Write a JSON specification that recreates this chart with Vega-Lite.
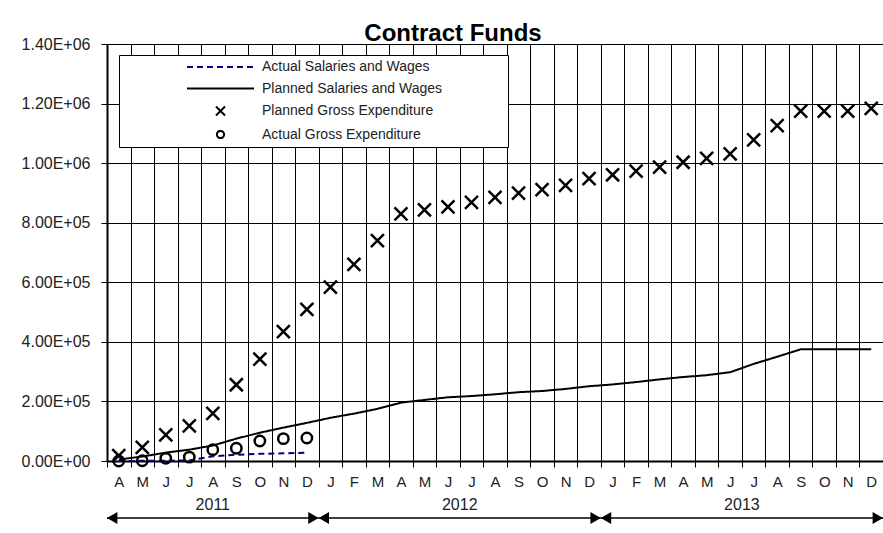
{
  "$schema": "https://vega.github.io/schema/vega-lite/v6.json",
  "width": 776,
  "height": 417,
  "autosize": {"type": "none"},
  "padding": {"left": 107, "top": 44, "right": 0, "bottom": 72},
  "background": "white",
  "config": {"font": "Liberation Sans", "view": {"stroke": "black", "strokeWidth": 1}},
  "title": {"text": "Contract Funds", "fontSize": 24, "fontWeight": "bold", "color": "black", "anchor": "middle", "dx": -42, "dy": 33, "offset": 4, "baseline": "alphabetic"},
  "data": {"values": [
    {"i":1,"date":"2011-04","year":"2011","series":"Planned Gross Expenditure","value":18000},
    {"i":2,"date":"2011-05","year":"2011","series":"Planned Gross Expenditure","value":46000},
    {"i":3,"date":"2011-06","year":"2011","series":"Planned Gross Expenditure","value":88000},
    {"i":4,"date":"2011-07","year":"2011","series":"Planned Gross Expenditure","value":118000},
    {"i":5,"date":"2011-08","year":"2011","series":"Planned Gross Expenditure","value":160000},
    {"i":6,"date":"2011-09","year":"2011","series":"Planned Gross Expenditure","value":256000},
    {"i":7,"date":"2011-10","year":"2011","series":"Planned Gross Expenditure","value":342000},
    {"i":8,"date":"2011-11","year":"2011","series":"Planned Gross Expenditure","value":434000},
    {"i":9,"date":"2011-12","year":"2011","series":"Planned Gross Expenditure","value":509000},
    {"i":10,"date":"2012-01","year":"2012","series":"Planned Gross Expenditure","value":584000},
    {"i":11,"date":"2012-02","year":"2012","series":"Planned Gross Expenditure","value":660000},
    {"i":12,"date":"2012-03","year":"2012","series":"Planned Gross Expenditure","value":740000},
    {"i":13,"date":"2012-04","year":"2012","series":"Planned Gross Expenditure","value":830000},
    {"i":14,"date":"2012-05","year":"2012","series":"Planned Gross Expenditure","value":843000},
    {"i":15,"date":"2012-06","year":"2012","series":"Planned Gross Expenditure","value":853000},
    {"i":16,"date":"2012-07","year":"2012","series":"Planned Gross Expenditure","value":868000},
    {"i":17,"date":"2012-08","year":"2012","series":"Planned Gross Expenditure","value":885000},
    {"i":18,"date":"2012-09","year":"2012","series":"Planned Gross Expenditure","value":899000},
    {"i":19,"date":"2012-10","year":"2012","series":"Planned Gross Expenditure","value":911000},
    {"i":20,"date":"2012-11","year":"2012","series":"Planned Gross Expenditure","value":925000},
    {"i":21,"date":"2012-12","year":"2012","series":"Planned Gross Expenditure","value":948000},
    {"i":22,"date":"2013-01","year":"2013","series":"Planned Gross Expenditure","value":961000},
    {"i":23,"date":"2013-02","year":"2013","series":"Planned Gross Expenditure","value":973000},
    {"i":24,"date":"2013-03","year":"2013","series":"Planned Gross Expenditure","value":987000},
    {"i":25,"date":"2013-04","year":"2013","series":"Planned Gross Expenditure","value":1003000},
    {"i":26,"date":"2013-05","year":"2013","series":"Planned Gross Expenditure","value":1016000},
    {"i":27,"date":"2013-06","year":"2013","series":"Planned Gross Expenditure","value":1031000},
    {"i":28,"date":"2013-07","year":"2013","series":"Planned Gross Expenditure","value":1078000},
    {"i":29,"date":"2013-08","year":"2013","series":"Planned Gross Expenditure","value":1126000},
    {"i":30,"date":"2013-09","year":"2013","series":"Planned Gross Expenditure","value":1175000},
    {"i":31,"date":"2013-10","year":"2013","series":"Planned Gross Expenditure","value":1175000},
    {"i":32,"date":"2013-11","year":"2013","series":"Planned Gross Expenditure","value":1175000},
    {"i":33,"date":"2013-12","year":"2013","series":"Planned Gross Expenditure","value":1184000},
    {"i":1,"date":"2011-04","year":"2011","series":"Planned Salaries and Wages","value":5000},
    {"i":2,"date":"2011-05","year":"2011","series":"Planned Salaries and Wages","value":15000},
    {"i":3,"date":"2011-06","year":"2011","series":"Planned Salaries and Wages","value":28000},
    {"i":4,"date":"2011-07","year":"2011","series":"Planned Salaries and Wages","value":38000},
    {"i":5,"date":"2011-08","year":"2011","series":"Planned Salaries and Wages","value":52000},
    {"i":6,"date":"2011-09","year":"2011","series":"Planned Salaries and Wages","value":75000},
    {"i":7,"date":"2011-10","year":"2011","series":"Planned Salaries and Wages","value":95000},
    {"i":8,"date":"2011-11","year":"2011","series":"Planned Salaries and Wages","value":112000},
    {"i":9,"date":"2011-12","year":"2011","series":"Planned Salaries and Wages","value":128000},
    {"i":10,"date":"2012-01","year":"2012","series":"Planned Salaries and Wages","value":145000},
    {"i":11,"date":"2012-02","year":"2012","series":"Planned Salaries and Wages","value":159000},
    {"i":12,"date":"2012-03","year":"2012","series":"Planned Salaries and Wages","value":175000},
    {"i":13,"date":"2012-04","year":"2012","series":"Planned Salaries and Wages","value":196000},
    {"i":14,"date":"2012-05","year":"2012","series":"Planned Salaries and Wages","value":205000},
    {"i":15,"date":"2012-06","year":"2012","series":"Planned Salaries and Wages","value":214000},
    {"i":16,"date":"2012-07","year":"2012","series":"Planned Salaries and Wages","value":218000},
    {"i":17,"date":"2012-08","year":"2012","series":"Planned Salaries and Wages","value":224000},
    {"i":18,"date":"2012-09","year":"2012","series":"Planned Salaries and Wages","value":231000},
    {"i":19,"date":"2012-10","year":"2012","series":"Planned Salaries and Wages","value":235000},
    {"i":20,"date":"2012-11","year":"2012","series":"Planned Salaries and Wages","value":242000},
    {"i":21,"date":"2012-12","year":"2012","series":"Planned Salaries and Wages","value":251000},
    {"i":22,"date":"2013-01","year":"2013","series":"Planned Salaries and Wages","value":257000},
    {"i":23,"date":"2013-02","year":"2013","series":"Planned Salaries and Wages","value":265000},
    {"i":24,"date":"2013-03","year":"2013","series":"Planned Salaries and Wages","value":274000},
    {"i":25,"date":"2013-04","year":"2013","series":"Planned Salaries and Wages","value":282000},
    {"i":26,"date":"2013-05","year":"2013","series":"Planned Salaries and Wages","value":288000},
    {"i":27,"date":"2013-06","year":"2013","series":"Planned Salaries and Wages","value":298000},
    {"i":28,"date":"2013-07","year":"2013","series":"Planned Salaries and Wages","value":326000},
    {"i":29,"date":"2013-08","year":"2013","series":"Planned Salaries and Wages","value":350000},
    {"i":30,"date":"2013-09","year":"2013","series":"Planned Salaries and Wages","value":375000},
    {"i":31,"date":"2013-10","year":"2013","series":"Planned Salaries and Wages","value":375000},
    {"i":32,"date":"2013-11","year":"2013","series":"Planned Salaries and Wages","value":375000},
    {"i":33,"date":"2013-12","year":"2013","series":"Planned Salaries and Wages","value":375000},
    {"i":1,"date":"2011-04","year":"2011","series":"Actual Gross Expenditure","value":0},
    {"i":2,"date":"2011-05","year":"2011","series":"Actual Gross Expenditure","value":1000},
    {"i":3,"date":"2011-06","year":"2011","series":"Actual Gross Expenditure","value":9000},
    {"i":4,"date":"2011-07","year":"2011","series":"Actual Gross Expenditure","value":13000},
    {"i":5,"date":"2011-08","year":"2011","series":"Actual Gross Expenditure","value":38000},
    {"i":6,"date":"2011-09","year":"2011","series":"Actual Gross Expenditure","value":43000},
    {"i":7,"date":"2011-10","year":"2011","series":"Actual Gross Expenditure","value":67000},
    {"i":8,"date":"2011-11","year":"2011","series":"Actual Gross Expenditure","value":75000},
    {"i":9,"date":"2011-12","year":"2011","series":"Actual Gross Expenditure","value":77000},
    {"i":1,"date":"2011-04","year":"2011","series":"Actual Salaries and Wages","value":0},
    {"i":2,"date":"2011-05","year":"2011","series":"Actual Salaries and Wages","value":500},
    {"i":3,"date":"2011-06","year":"2011","series":"Actual Salaries and Wages","value":1000},
    {"i":4,"date":"2011-07","year":"2011","series":"Actual Salaries and Wages","value":2000},
    {"i":5,"date":"2011-08","year":"2011","series":"Actual Salaries and Wages","value":16000},
    {"i":6,"date":"2011-09","year":"2011","series":"Actual Salaries and Wages","value":21000},
    {"i":7,"date":"2011-10","year":"2011","series":"Actual Salaries and Wages","value":24000},
    {"i":8,"date":"2011-11","year":"2011","series":"Actual Salaries and Wages","value":26000},
    {"i":9,"date":"2011-12","year":"2011","series":"Actual Salaries and Wages","value":27500}
  ]},
  "layer": [
    {
      "transform": [{"filter": {"field": "series", "oneOf": ["Actual Salaries and Wages", "Planned Salaries and Wages"]}}],
      "mark": {"type": "line", "strokeWidth": 2},
      "encoding": {
        "x": {"field": "i", "type": "quantitative", "title": null, "scale": {"domain": [0.5, 33.5], "nice": false, "zero": false},
          "axis": {"title": null, "values": [0.5,1.5,2.5,3.5,4.5,5.5,6.5,7.5,8.5,9.5,10.5,11.5,12.5,13.5,14.5,15.5,16.5,17.5,18.5,19.5,20.5,21.5,22.5,23.5,24.5,25.5,26.5,27.5,28.5,29.5,30.5,31.5,32.5,33.5],
            "labelExpr": "datum.value < 33 ? substring('AMJJASONDJFMAMJJASONDJFMAMJJASOND', floor(datum.value), floor(datum.value) + 1) : ''",
            "grid": true, "gridColor": "black", "gridWidth": 1, "gridOpacity": 1,
            "domainColor": "black", "domainWidth": 2, "tickColor": "black", "tickSize": 6, "tickWidth": 1,
            "labelOffset": 11.76, "labelPadding": 7, "labelFontSize": 15, "labelColor": "#222",
            "labelOverlap": false, "labelFlush": false, "labelBound": false}},
        "y": {"field": "value", "type": "quantitative", "title": null, "scale": {"domain": [0, 1400000], "nice": false, "zero": false},
          "axis": {"title": null, "values": [0,200000,400000,600000,800000,1000000,1200000,1400000],
            "labelExpr": "replace(format(datum.value, '.2e'), 'e+', 'E+0')",
            "grid": true, "gridColor": "black", "gridWidth": 1, "gridOpacity": 1,
            "domainColor": "black", "domainWidth": 2, "tickColor": "black", "tickSize": 6, "tickWidth": 1,
            "labelFontSize": 16, "labelColor": "#222", "labelPadding": 11, "labelFlush": false, "labelOverlap": false}},
        "color": {"field": "series", "type": "nominal",
          "scale": {"domain": ["Actual Salaries and Wages", "Planned Salaries and Wages", "Planned Gross Expenditure", "Actual Gross Expenditure"], "range": ["#000080", "black", "black", "black"]},
          "legend": {"orient": "none", "legendX": 12, "legendY": 11, "title": " ", "titleOrient": "right", "titlePadding": 62, "padding": 4, "symbolOffset": 89.5, "labelOffset": 33.5, "rowPadding": 6.5, "symbolSize": 196, "symbolStrokeWidth": 2, "symbolOpacity": 1, "symbolFillColor": "transparent", "labelFontSize": 14, "labelColor": "#222", "strokeColor": "black", "fillColor": "white", "labelLimit": 0}},
        "strokeDash": {"field": "series", "type": "nominal",
          "scale": {"domain": ["Actual Salaries and Wages", "Planned Salaries and Wages", "Planned Gross Expenditure", "Actual Gross Expenditure"], "range": [[6, 4], [1, 0], [1, 0], [1, 0]]},
          "legend": {"orient": "none", "legendX": 12, "legendY": 11, "title": " ", "titleOrient": "right", "titlePadding": 62, "padding": 4, "symbolOffset": 89.5, "labelOffset": 33.5, "rowPadding": 6.5, "symbolSize": 196, "symbolStrokeWidth": 2, "symbolOpacity": 1, "symbolFillColor": "transparent", "labelFontSize": 14, "labelColor": "#222", "strokeColor": "black", "fillColor": "white", "labelLimit": 0}}
      }
    },
    {
      "transform": [{"filter": {"field": "series", "oneOf": ["Planned Gross Expenditure", "Actual Gross Expenditure"]}}],
      "mark": {"type": "point", "filled": false, "strokeWidth": 2.5, "size": 408, "opacity": 1},
      "encoding": {
        "x": {"field": "i", "type": "quantitative", "title": null, "scale": {"domain": [0.5, 33.5], "nice": false, "zero": false},
          "axis": {"title": null, "values": [0.5,1.5,2.5,3.5,4.5,5.5,6.5,7.5,8.5,9.5,10.5,11.5,12.5,13.5,14.5,15.5,16.5,17.5,18.5,19.5,20.5,21.5,22.5,23.5,24.5,25.5,26.5,27.5,28.5,29.5,30.5,31.5,32.5,33.5],
            "labelExpr": "datum.value < 33 ? substring('AMJJASONDJFMAMJJASONDJFMAMJJASOND', floor(datum.value), floor(datum.value) + 1) : ''",
            "grid": true, "gridColor": "black", "gridWidth": 1, "gridOpacity": 1,
            "domainColor": "black", "domainWidth": 2, "tickColor": "black", "tickSize": 6, "tickWidth": 1,
            "labelOffset": 11.76, "labelPadding": 7, "labelFontSize": 15, "labelColor": "#222",
            "labelOverlap": false, "labelFlush": false, "labelBound": false}},
        "y": {"field": "value", "type": "quantitative", "title": null, "scale": {"domain": [0, 1400000], "nice": false, "zero": false},
          "axis": {"title": null, "values": [0,200000,400000,600000,800000,1000000,1200000,1400000],
            "labelExpr": "replace(format(datum.value, '.2e'), 'e+', 'E+0')",
            "grid": true, "gridColor": "black", "gridWidth": 1, "gridOpacity": 1,
            "domainColor": "black", "domainWidth": 2, "tickColor": "black", "tickSize": 6, "tickWidth": 1,
            "labelFontSize": 16, "labelColor": "#222", "labelPadding": 11, "labelFlush": false, "labelOverlap": false}},
        "color": {"field": "series", "type": "nominal",
          "scale": {"domain": ["Actual Salaries and Wages", "Planned Salaries and Wages", "Planned Gross Expenditure", "Actual Gross Expenditure"], "range": ["#000080", "black", "black", "black"]},
          "legend": {"orient": "none", "legendX": 12, "legendY": 11, "title": " ", "titleOrient": "right", "titlePadding": 62, "padding": 4, "symbolOffset": 89.5, "labelOffset": 33.5, "rowPadding": 6.5, "symbolSize": 196, "symbolStrokeWidth": 2, "symbolOpacity": 1, "symbolFillColor": "transparent", "labelFontSize": 14, "labelColor": "#222", "strokeColor": "black", "fillColor": "white", "labelLimit": 0}},
        "shape": {"field": "series", "type": "nominal",
          "scale": {"domain": ["Actual Salaries and Wages", "Planned Salaries and Wages", "Planned Gross Expenditure", "Actual Gross Expenditure"], "range": ["M-4.786,0L4.786,0", "M-4.786,0L4.786,0", "M-0.643,-0.643L0.643,0.643M-0.643,0.643L0.643,-0.643", "M0.514,0A0.514,0.514,0,1,1,-0.514,0A0.514,0.514,0,1,1,0.514,0Z"]},
          "legend": {"orient": "none", "legendX": 12, "legendY": 11, "title": " ", "titleOrient": "right", "titlePadding": 62, "padding": 4, "symbolOffset": 89.5, "labelOffset": 33.5, "rowPadding": 6.5, "symbolSize": 196, "symbolStrokeWidth": 2, "symbolOpacity": 1, "symbolFillColor": "transparent", "labelFontSize": 14, "labelColor": "#222", "strokeColor": "black", "fillColor": "white", "labelLimit": 0}}
      }
    },
    {
      "transform": [{"filter": {"field": "series", "equal": "Planned Gross Expenditure"}}],
      "mark": {"type": "rule", "strokeWidth": 1.5, "color": "black", "xOffset": -11.76, "x2Offset": 11.76},
      "encoding": {
        "x": {"aggregate": "min", "field": "i", "type": "quantitative", "title": null, "scale": {"domain": [0.5, 33.5], "nice": false, "zero": false},
          "axis": {"title": null, "values": [0.5,1.5,2.5,3.5,4.5,5.5,6.5,7.5,8.5,9.5,10.5,11.5,12.5,13.5,14.5,15.5,16.5,17.5,18.5,19.5,20.5,21.5,22.5,23.5,24.5,25.5,26.5,27.5,28.5,29.5,30.5,31.5,32.5,33.5],
            "labelExpr": "datum.value < 33 ? substring('AMJJASONDJFMAMJJASONDJFMAMJJASOND', floor(datum.value), floor(datum.value) + 1) : ''",
            "grid": true, "gridColor": "black", "gridWidth": 1, "gridOpacity": 1,
            "domainColor": "black", "domainWidth": 2, "tickColor": "black", "tickSize": 6, "tickWidth": 1,
            "labelOffset": 11.76, "labelPadding": 7, "labelFontSize": 15, "labelColor": "#222",
            "labelOverlap": false, "labelFlush": false, "labelBound": false}},
        "x2": {"aggregate": "max", "field": "i"},
        "y": {"datum": -191000, "type": "quantitative", "title": null, "scale": {"domain": [0, 1400000], "nice": false, "zero": false},
          "axis": {"title": null, "values": [0,200000,400000,600000,800000,1000000,1200000,1400000],
            "labelExpr": "replace(format(datum.value, '.2e'), 'e+', 'E+0')",
            "grid": true, "gridColor": "black", "gridWidth": 1, "gridOpacity": 1,
            "domainColor": "black", "domainWidth": 2, "tickColor": "black", "tickSize": 6, "tickWidth": 1,
            "labelFontSize": 16, "labelColor": "#222", "labelPadding": 11, "labelFlush": false, "labelOverlap": false}},
        "detail": {"field": "year", "type": "nominal"}
      }
    },
    {
      "transform": [{"filter": {"field": "series", "equal": "Planned Gross Expenditure"}}],
      "mark": {"type": "point", "shape": "triangle-left", "filled": true, "color": "black", "size": 144, "opacity": 1, "xOffset": -6.56},
      "encoding": {
        "x": {"aggregate": "min", "field": "i", "type": "quantitative", "title": null, "scale": {"domain": [0.5, 33.5], "nice": false, "zero": false},
          "axis": {"title": null, "values": [0.5,1.5,2.5,3.5,4.5,5.5,6.5,7.5,8.5,9.5,10.5,11.5,12.5,13.5,14.5,15.5,16.5,17.5,18.5,19.5,20.5,21.5,22.5,23.5,24.5,25.5,26.5,27.5,28.5,29.5,30.5,31.5,32.5,33.5],
            "labelExpr": "datum.value < 33 ? substring('AMJJASONDJFMAMJJASONDJFMAMJJASOND', floor(datum.value), floor(datum.value) + 1) : ''",
            "grid": true, "gridColor": "black", "gridWidth": 1, "gridOpacity": 1,
            "domainColor": "black", "domainWidth": 2, "tickColor": "black", "tickSize": 6, "tickWidth": 1,
            "labelOffset": 11.76, "labelPadding": 7, "labelFontSize": 15, "labelColor": "#222",
            "labelOverlap": false, "labelFlush": false, "labelBound": false}},
        "y": {"datum": -191000, "type": "quantitative", "title": null, "scale": {"domain": [0, 1400000], "nice": false, "zero": false},
          "axis": {"title": null, "values": [0,200000,400000,600000,800000,1000000,1200000,1400000],
            "labelExpr": "replace(format(datum.value, '.2e'), 'e+', 'E+0')",
            "grid": true, "gridColor": "black", "gridWidth": 1, "gridOpacity": 1,
            "domainColor": "black", "domainWidth": 2, "tickColor": "black", "tickSize": 6, "tickWidth": 1,
            "labelFontSize": 16, "labelColor": "#222", "labelPadding": 11, "labelFlush": false, "labelOverlap": false}},
        "detail": {"field": "year", "type": "nominal"}
      }
    },
    {
      "transform": [{"filter": {"field": "series", "equal": "Planned Gross Expenditure"}}],
      "mark": {"type": "point", "shape": "triangle-right", "filled": true, "color": "black", "size": 144, "opacity": 1, "xOffset": 6.56},
      "encoding": {
        "x": {"aggregate": "max", "field": "i", "type": "quantitative", "title": null, "scale": {"domain": [0.5, 33.5], "nice": false, "zero": false},
          "axis": {"title": null, "values": [0.5,1.5,2.5,3.5,4.5,5.5,6.5,7.5,8.5,9.5,10.5,11.5,12.5,13.5,14.5,15.5,16.5,17.5,18.5,19.5,20.5,21.5,22.5,23.5,24.5,25.5,26.5,27.5,28.5,29.5,30.5,31.5,32.5,33.5],
            "labelExpr": "datum.value < 33 ? substring('AMJJASONDJFMAMJJASONDJFMAMJJASOND', floor(datum.value), floor(datum.value) + 1) : ''",
            "grid": true, "gridColor": "black", "gridWidth": 1, "gridOpacity": 1,
            "domainColor": "black", "domainWidth": 2, "tickColor": "black", "tickSize": 6, "tickWidth": 1,
            "labelOffset": 11.76, "labelPadding": 7, "labelFontSize": 15, "labelColor": "#222",
            "labelOverlap": false, "labelFlush": false, "labelBound": false}},
        "y": {"datum": -191000, "type": "quantitative", "title": null, "scale": {"domain": [0, 1400000], "nice": false, "zero": false},
          "axis": {"title": null, "values": [0,200000,400000,600000,800000,1000000,1200000,1400000],
            "labelExpr": "replace(format(datum.value, '.2e'), 'e+', 'E+0')",
            "grid": true, "gridColor": "black", "gridWidth": 1, "gridOpacity": 1,
            "domainColor": "black", "domainWidth": 2, "tickColor": "black", "tickSize": 6, "tickWidth": 1,
            "labelFontSize": 16, "labelColor": "#222", "labelPadding": 11, "labelFlush": false, "labelOverlap": false}},
        "detail": {"field": "year", "type": "nominal"}
      }
    },
    {
      "transform": [{"filter": {"field": "series", "equal": "Planned Gross Expenditure"}}],
      "mark": {"type": "text", "fontSize": 16, "color": "#222", "baseline": "alphabetic", "align": "center"},
      "encoding": {
        "x": {"aggregate": "mean", "field": "i", "type": "quantitative", "title": null, "scale": {"domain": [0.5, 33.5], "nice": false, "zero": false},
          "axis": {"title": null, "values": [0.5,1.5,2.5,3.5,4.5,5.5,6.5,7.5,8.5,9.5,10.5,11.5,12.5,13.5,14.5,15.5,16.5,17.5,18.5,19.5,20.5,21.5,22.5,23.5,24.5,25.5,26.5,27.5,28.5,29.5,30.5,31.5,32.5,33.5],
            "labelExpr": "datum.value < 33 ? substring('AMJJASONDJFMAMJJASONDJFMAMJJASOND', floor(datum.value), floor(datum.value) + 1) : ''",
            "grid": true, "gridColor": "black", "gridWidth": 1, "gridOpacity": 1,
            "domainColor": "black", "domainWidth": 2, "tickColor": "black", "tickSize": 6, "tickWidth": 1,
            "labelOffset": 11.76, "labelPadding": 7, "labelFontSize": 15, "labelColor": "#222",
            "labelOverlap": false, "labelFlush": false, "labelBound": false}},
        "y": {"datum": -164500, "type": "quantitative", "title": null, "scale": {"domain": [0, 1400000], "nice": false, "zero": false},
          "axis": {"title": null, "values": [0,200000,400000,600000,800000,1000000,1200000,1400000],
            "labelExpr": "replace(format(datum.value, '.2e'), 'e+', 'E+0')",
            "grid": true, "gridColor": "black", "gridWidth": 1, "gridOpacity": 1,
            "domainColor": "black", "domainWidth": 2, "tickColor": "black", "tickSize": 6, "tickWidth": 1,
            "labelFontSize": 16, "labelColor": "#222", "labelPadding": 11, "labelFlush": false, "labelOverlap": false}},
        "text": {"field": "year", "type": "nominal"}
      }
    }
  ]
}
